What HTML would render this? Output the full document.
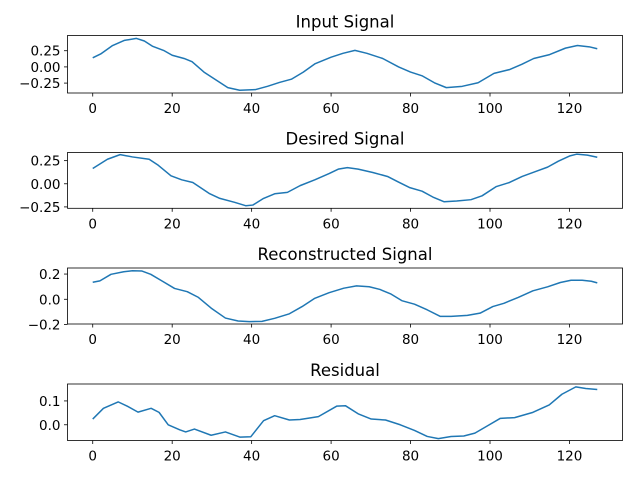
<!DOCTYPE html>
<html><head><meta charset="utf-8"><style>
body{margin:0;background:#fff;}
svg{display:block;font-family:"DejaVu Sans","Liberation Sans",sans-serif;}
</style></head><body>
<svg id="chart" width="640" height="480" viewBox="0 0 640 480" xmlns="http://www.w3.org/2000/svg"></svg>
<script>
const xTicks = [0,20,40,60,80,100,120];
const inputX = [0,2,5,8,11,13,15,18,20,23,25,28,31,34,37,41,44,47,50,53,56,60,63,66,69,73,77,80,83,86,89,93,97,101,105,108,111,115,119,122,125,127];
const inputY = [0.14,0.20,0.33,0.41,0.44,0.40,0.32,0.25,0.18,0.13,0.08,-0.08,-0.20,-0.32,-0.36,-0.35,-0.30,-0.24,-0.19,-0.08,0.05,0.15,0.21,0.255,0.21,0.13,0.0,-0.08,-0.14,-0.245,-0.32,-0.30,-0.245,-0.10,-0.04,0.04,0.13,0.19,0.29,0.33,0.31,0.28];
const desiredX = [0,3.7,6.9,10,14.2,16.5,19.7,22.4,25.2,29.3,32,35.7,38.5,40.3,43,45.8,49,52.2,55.9,59.5,61.8,64.1,66.8,70.5,74.2,76.9,79.7,82.9,85.6,88.4,91.6,95.2,98,101.6,104.9,108.1,111.7,114.5,117.2,120,121.8,124.5,127];
const desiredY = [0.165,0.265,0.315,0.29,0.265,0.20,0.086,0.043,0.014,-0.104,-0.158,-0.20,-0.237,-0.23,-0.158,-0.108,-0.093,-0.02,0.043,0.11,0.158,0.175,0.158,0.122,0.079,0.02,-0.04,-0.08,-0.143,-0.194,-0.186,-0.172,-0.13,-0.03,0.014,0.079,0.136,0.18,0.244,0.30,0.32,0.31,0.287];
const reconX = [0,1.8,4.6,7.8,10,12.4,14.6,17.4,20.6,23.8,26.6,29.8,33.4,36.6,39.4,42.6,45.8,49.5,52.7,55.9,59.5,63.2,66.4,69.6,72.3,75.1,77.8,81,84.2,87.5,90.2,94.3,97.5,100.7,103.5,107.1,110.8,114.5,117.7,120.4,123.2,125.5,127];
const reconY = [0.135,0.146,0.198,0.218,0.226,0.224,0.198,0.146,0.086,0.06,0.015,-0.07,-0.149,-0.172,-0.177,-0.175,-0.151,-0.115,-0.058,0.008,0.052,0.088,0.106,0.099,0.078,0.041,-0.011,-0.039,-0.084,-0.136,-0.136,-0.128,-0.11,-0.058,-0.032,0.015,0.067,0.099,0.133,0.151,0.151,0.143,0.13];
const residX = [0,2.7,6.4,8.7,11.4,14.7,16.7,19,21.9,23.4,25.6,29.8,33.4,37.1,39.8,43,45.8,49.5,52.2,56.8,61.4,63.6,66.8,70.1,73.7,77.4,81,84.2,87,90.2,93.4,96.2,99.4,102.6,106.2,110.8,114.9,118.1,121.6,124.1,127];
const residY = [0.024,0.069,0.096,0.078,0.053,0.069,0.052,0.0,-0.021,-0.03,-0.018,-0.044,-0.03,-0.052,-0.05,0.017,0.038,0.02,0.022,0.034,0.078,0.080,0.046,0.024,0.02,0.0,-0.024,-0.049,-0.058,-0.049,-0.047,-0.035,-0.004,0.027,0.03,0.052,0.083,0.128,0.159,0.152,0.148];
const yTicks1 = [-0.25,0,0.25], yLabels1 = ["\u22120.25","0.00","0.25"];
const yTicks2 = [-0.25,0,0.25], yLabels2 = ["\u22120.25","0.00","0.25"];
const yTicks3 = [-0.2,0,0.2], yLabels3 = ["\u22120.2","0.0","0.2"];
const yTicks4 = [0,0.1], yLabels4 = ["0.0","0.1"];
const titles = ["Input Signal","Desired Signal","Reconstructed Signal","Residual"];

const NS="http://www.w3.org/2000/svg";
const svg=document.getElementById('chart');
function mk(tag,attrs,parent){const e=document.createElementNS(NS,tag);for(const k in attrs)e.setAttribute(k,attrs[k]);(parent||svg).appendChild(e);return e;}
const L=67.5,R=622.5,xMin=-6.35,xMax=133.35;
const xs=v=>L+(v-xMin)/(xMax-xMin)*(R-L);
const panels=[
 {top:35.5,bot:93,y0:-0.403,y1:0.485,X:inputX,Y:inputY,t:yTicks1,l:yLabels1,name:'input-signal'},
 {top:152.5,bot:208.3,y0:-0.265,y1:0.338,X:desiredX,Y:desiredY,t:yTicks2,l:yLabels2,name:'desired-signal'},
 {top:268,bot:324,y0:-0.196,y1:0.248,X:reconX,Y:reconY,t:yTicks3,l:yLabels3,name:'reconstructed-signal'},
 {top:384,bot:440.5,y0:-0.066,y1:0.171,X:residX,Y:residY,t:yTicks4,l:yLabels4,name:'residual'}
];
panels.forEach((p,i)=>{
 const g=mk('g',{});
 
 
 const ys=v=>p.bot-(v-p.y0)/(p.y1-p.y0)*(p.bot-p.top);
 const tt=mk('text',{x:(L+R)/2,y:p.top-8,'text-anchor':'middle','font-size':'16.5',fill:'#000'},g);
 tt.textContent=titles[i];
 
 
 xTicks.forEach(v=>{
  const x=xs(v);
  mk('line',{x1:x,x2:x,y1:p.bot,y2:p.bot+3.5,stroke:'#000','stroke-width':0.8},g);
  const t=mk('text',{x:x,y:p.bot+20,'text-anchor':'middle','font-size':'13.5',fill:'#000'},g);
  t.textContent=v;
  
  
 });
 p.t.forEach((v,j)=>{
  const y=ys(v);
  mk('line',{x1:L-3.5,x2:L,y1:y,y2:y,stroke:'#000','stroke-width':0.8},g);
  const t=mk('text',{x:L-7,y:y+5,'text-anchor':'end','font-size':'13.5',fill:'#000'},g);
  t.textContent=p.l[j];
  
  
 });
 const d=p.X.map((v,k)=>(k?'L':'M')+xs(v).toFixed(2)+' '+ys(p.Y[k]).toFixed(2)).join(' ');
 const path=mk('path',{d:d,fill:'none',stroke:'#1f77b4','stroke-width':1.5,'stroke-linejoin':'round'},g);
 
 
 const fr=mk('rect',{x:L,y:p.top,width:R-L,height:p.bot-p.top,fill:'none',stroke:'#000','stroke-width':0.8},g);
 
 
});
</script>
</body></html>
